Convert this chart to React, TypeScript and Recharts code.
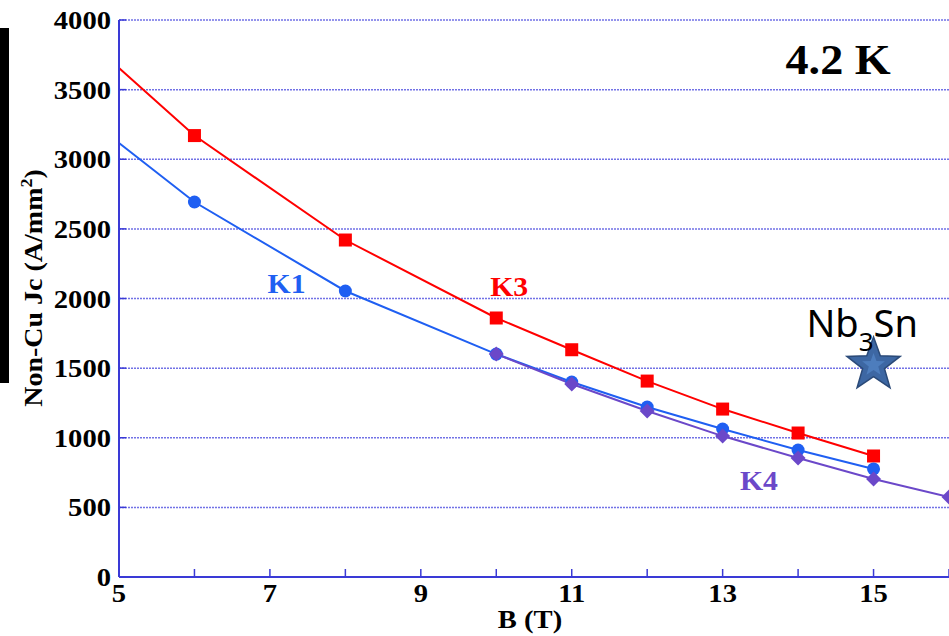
import React from "react";
import {
  ComposedChart,
  Line,
  Scatter,
  XAxis,
  YAxis,
  CartesianGrid,
  ReferenceDot,
} from "recharts";

// K3 (red squares), first point has no marker
const fieldK3 = [5, 6, 8, 10, 11, 12, 13, 14, 15];
const jcK3 = [3655, 3170, 2420, 1860, 1632, 1407, 1206, 1034, 869];

// K1 (blue circles), first point has no marker
const fieldK1 = [5, 6, 8, 10, 11, 12, 13, 14, 15];
const jcK1 = [3117, 2693, 2054, 1601, 1400, 1221, 1063, 912, 776];

// K4 (purple diamonds)
const fieldK4 = [10, 11, 12, 13, 14, 15, 16];
const jcK4 = [1601, 1386, 1192, 1012, 854, 704, 574];

// Nb3Sn reference star
const starField = [15];
const starJc = [1522];

const xTicks = [5, 6, 7, 8, 9, 10, 11, 12, 13, 14, 15, 16];
const yTicks = [0, 500, 1000, 1500, 2000, 2500, 3000, 3500, 4000];

const AXIS = "#3a3ad6";
const GRID = "#7272e6";
const RED = "#ff0000";
const BLUE = "#1f5ff2";
const PURPLE = "#6b48c9";
const SERIF = "'Liberation Serif', 'Times New Roman', serif";

const toRows = (xs: number[], ys: number[]) => xs.map((x, i) => ({ x, y: ys[i] }));
const k3 = toRows(fieldK3, jcK3);
const k1 = toRows(fieldK1, jcK1);
const k4 = toRows(fieldK4, jcK4);
const star = toRows(starField, starJc);

function Stretch({ x, y, size, anchor = "middle", fill = "#000", children }: any) {
  return (
    <text
      transform={`translate(${x},${y}) scale(1.1,1)`}
      textAnchor={anchor}
      fontFamily={SERIF}
      fontWeight="bold"
      fontSize={size}
      fill={fill}
    >
      {children}
    </text>
  );
}

function BottomTick({ x, y, payload }: any) {
  return (
    <g>
      <line x1={x} x2={x} y1={y} y2={y - 8} stroke={AXIS} strokeWidth={1.5} />
      {payload.value % 2 === 1 && (
        <Stretch x={x} y={y + 25} size={26}>
          {payload.value}
        </Stretch>
      )}
    </g>
  );
}

function TopTick({ x, y }: any) {
  return <line x1={x} x2={x} y1={y} y2={y + 8} stroke={AXIS} strokeWidth={1.5} />;
}

function LeftTick({ x, y, payload }: any) {
  return (
    <g>
      <line x1={x} x2={x + 7} y1={y} y2={y} stroke={AXIS} strokeWidth={1.5} />
      <Stretch x={x - 8} y={y + 9} size={26} anchor="end">
        {payload.value}
      </Stretch>
    </g>
  );
}

function squareDot(p: any) {
  if (p.payload.x === 5) return <g key={p.index} />;
  return <rect key={p.index} x={p.cx - 6.5} y={p.cy - 6.5} width={13} height={13} fill={RED} />;
}

function circleDot(p: any) {
  if (p.payload.x === 5) return <g key={p.index} />;
  return <circle key={p.index} cx={p.cx} cy={p.cy} r={6.5} fill={BLUE} />;
}

function diamondDot(p: any) {
  const r = 7.5;
  return (
    <polygon
      key={p.index}
      points={`${p.cx},${p.cy - r} ${p.cx + r},${p.cy} ${p.cx},${p.cy + r} ${p.cx - r},${p.cy}`}
      fill={PURPLE}
    />
  );
}

function starPoints(cx: number, cy: number, R: number, r: number) {
  const pts: string[] = [];
  for (let i = 0; i < 10; i++) {
    const rad = i % 2 === 0 ? R : r;
    const a = -Math.PI / 2 + (i * Math.PI) / 5;
    pts.push(`${cx + rad * Math.cos(a)},${cy + rad * Math.sin(a)}`);
  }
  return pts.join(" ");
}

function StarShape(p: any) {
  return (
    <g>
      <polygon points={starPoints(p.cx, p.cy, 28, 11.5)} fill="#3d67a3" stroke="#2b4a78" strokeWidth={1.5} />
      <polygon points={starPoints(p.cx, p.cy, 12, 5)} fill="#4d7dbd" />
    </g>
  );
}

const label = (text: string, color: string, size: number) => (p: any) => (
  <Stretch x={p.cx} y={p.cy} size={size} fill={color}>
    {text}
  </Stretch>
);

function Nb3SnLabel(p: any) {
  return (
    <text x={p.cx} y={p.cy} fontFamily="'Noto Sans', sans-serif" fontSize={38} fill="#000" textAnchor="start">
      Nb
      <tspan fontSize={26} dy={14}>
        3
      </tspan>
      <tspan dy={-14}>Sn</tspan>
    </text>
  );
}

export default function App() {
  return (
    <div style={{ position: "absolute", left: 0, top: 0, width: 949, height: 636, background: "#fff" }}>
      <div style={{ position: "absolute", left: 0, top: 28, width: 9, height: 355, background: "#000" }} />
      <ComposedChart
        width={949}
        height={636}
        margin={{ top: 20, right: 0, bottom: 0, left: 0 }}
        style={{ position: "absolute", left: 0, top: 0 }}
      >
        <CartesianGrid vertical={false} stroke={GRID} strokeDasharray="2 1" strokeWidth={1.5} />
        <XAxis
          type="number"
          dataKey="x"
          domain={[5, 16]}
          ticks={xTicks}
          interval={0}
          height={59}
          tickSize={0}
          tickMargin={0}
          tickLine={false}
          axisLine={{ stroke: AXIS, strokeWidth: 2 }}
          tick={<BottomTick />}
          label={{
            content: () => (
              <Stretch x={530} y={628} size={26}>
                B (T)
              </Stretch>
            ),
          }}
        />
        <XAxis
          xAxisId="top"
          orientation="top"
          type="number"
          dataKey="x"
          domain={[5, 16]}
          ticks={xTicks}
          interval={0}
          height={0}
          tickSize={0}
          tickMargin={0}
          tickLine={false}
          axisLine={{ stroke: AXIS, strokeWidth: 2 }}
          tick={<TopTick />}
        />
        <YAxis
          type="number"
          domain={[0, 4000]}
          ticks={yTicks}
          interval={0}
          width={119}
          tickSize={0}
          tickMargin={0}
          tickLine={false}
          axisLine={{ stroke: AXIS, strokeWidth: 2 }}
          tick={<LeftTick />}
          label={{
            content: () => (
              <text
                transform="translate(42,288) rotate(-90) scale(1.12,1)"
                textAnchor="middle"
                fontFamily={SERIF}
                fontWeight="bold"
                fontSize={25}
                fill="#000"
              >
                Non-Cu Jc (A/mm
                <tspan fontSize={16} dy={-10}>
                  2
                </tspan>
                <tspan dy={10}>)</tspan>
              </text>
            ),
          }}
        />
        <Line
          data={k3}
          dataKey="y"
          type="linear"
          stroke={RED}
          strokeWidth={2}
          dot={squareDot}
          activeDot={false}
          isAnimationActive={false}
        />
        <Line
          data={k1}
          dataKey="y"
          type="linear"
          stroke={BLUE}
          strokeWidth={2}
          dot={circleDot}
          activeDot={false}
          isAnimationActive={false}
        />
        <Line
          data={k4}
          dataKey="y"
          type="linear"
          stroke={PURPLE}
          strokeWidth={2}
          dot={diamondDot}
          activeDot={false}
          isAnimationActive={false}
        />
        <Scatter data={star} dataKey="y" shape={<StarShape />} isAnimationActive={false} />
        <ReferenceDot x={7.22} y={2039} r={0} shape={label("K1", BLUE, 27)} />
        <ReferenceDot x={10.17} y={2018} r={0} shape={label("K3", RED, 27)} />
        <ReferenceDot x={13.48} y={625} r={0} shape={label("K4", PURPLE, 27)} />
        <ReferenceDot x={14.53} y={3612} r={0} shape={label("4.2 K", "#000", 42)} />
        <ReferenceDot x={14.11} y={1724} r={0} shape={Nb3SnLabel} />
      </ComposedChart>
    </div>
  );
}
